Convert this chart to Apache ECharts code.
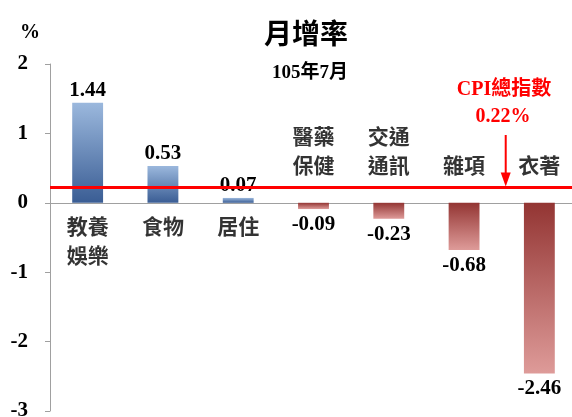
<!DOCTYPE html>
<html>
<head>
<meta charset="utf-8">
<script src="https://cdn.jsdelivr.net/npm/echarts@6/dist/echarts.min.js"></script>
<style>
  html, body { margin: 0; padding: 0; background: #fff; }
  #chart { width: 572px; height: 417px; }
</style>
</head>
<body>
<div id="chart"></div>
<script>
  // 月增率 105年7月
  const categories = ['教養\n娛樂', '食物', '居住', '醫藥\n保健', '交通\n通訊', '雜項', '衣著']
  const values = [1.44, 0.53, 0.07, -0.09, -0.23, -0.68, -2.46]
  const cpiTotal = 0.22
  const yMin = -3
  const yMax = 2

  const NUM_FONT = '"Liberation Serif", "Noto Sans CJK TC", serif'
  const CJK_FONT = '"Noto Sans CJK TC", sans-serif'

  const blueGrad = new echarts.graphic.LinearGradient(0, 0, 0, 1, [
    {offset: 0, color: '#9bb8dd'},
    {offset: 1, color: '#3a5d94'}
  ])
  const redGrad = new echarts.graphic.LinearGradient(0, 0, 0, 1, [
    {offset: 0, color: '#933533'},
    {offset: 1, color: '#de9b99'}
  ])

  let chart = echarts.init(document.getElementById('chart'))

  let option = {
    animation: false,
    backgroundColor: '#fff',
    grid: {left: 50, width: 527, top: 64, bottom: 6, outerBoundsMode: 'none', containLabel: false},
    xAxis: {
      type: 'category',
      data: categories,
      axisLine: {lineStyle: {color: '#a0a0a0', width: 1}},
      axisTick: {length: 5, lineStyle: {color: '#a0a0a0'}},
      axisLabel: {show: false}
    },
    yAxis: {
      type: 'value',
      min: yMin,
      max: yMax,
      interval: 1,
      axisLine: {show: true, lineStyle: {color: '#a0a0a0'}},
      axisTick: {show: true, length: 5, lineStyle: {color: '#a0a0a0'}},
      splitLine: {show: false},
      axisLabel: {
        margin: 22,
        color: '#000',
        fontFamily: NUM_FONT,
        fontWeight: 'bold',
        fontSize: 21
      }
    },
    series: [
      {
        type: 'bar',
        barWidth: '41%',
        data: values.map(v => ({
          value: v,
          itemStyle: {color: v >= 0 ? blueGrad : redGrad},
          label: {position: v >= 0 ? 'top' : 'bottom', distance: v >= 0 ? 2 : 5}
        })),
        label: {
          show: true,
          color: '#000',
          fontFamily: NUM_FONT,
          fontWeight: 'bold',
          fontSize: 21,
          formatter: p => p.value.toFixed(2)
        },
        markLine: {
          silent: true,
          symbol: 'none',
          label: {show: false},
          lineStyle: {color: '#ff0000', width: 3, type: 'solid'},
          data: [{yAxis: cpiTotal}]
        },
        z: 2
      },
      {
        // category names, placed on the side of the zero line away from the bar
        type: 'scatter',
        symbolSize: 0,
        silent: true,
        data: categories.map((c, i) => ({
          value: [i, 0],
          label: {
            position: values[i] >= 0 ? 'bottom' : 'top',
            distance: values[i] >= 0 ? 9 : 23
          }
        })),
        label: {
          show: true,
          color: '#000',
          fontFamily: CJK_FONT,
          fontWeight: 'bold',
          fontSize: 21,
          lineHeight: 29,
          formatter: p => categories[p.dataIndex]
        },
        z: 3
      }
    ]
  }

  chart.setOption(option)

  // annotations
  let lineY = chart.convertToPixel({yAxisIndex: 0}, cpiTotal)
  let x5 = chart.convertToPixel({xAxisIndex: 0}, 5)
  let x6 = chart.convertToPixel({xAxisIndex: 0}, 6)
  let arrowX = (x5 + x6) / 2 + 4

  chart.setOption({
    graphic: [
      {
        type: 'text',
        style: {
          text: '月增率', x: 306, y: 33, align: 'center', verticalAlign: 'middle',
          font: 'bold 28px ' + CJK_FONT, fill: '#000'
        }
      },
      {
        type: 'text',
        style: {
          text: '105年7月', x: 310, y: 73, align: 'center', verticalAlign: 'middle',
          font: 'bold 19px ' + NUM_FONT, fill: '#000'
        }
      },
      {
        type: 'text',
        style: {
          text: '%', x: 30, y: 33, align: 'center', verticalAlign: 'middle',
          font: 'bold 20px ' + NUM_FONT, fill: '#000'
        }
      },
      {
        type: 'text',
        style: {
          text: 'CPI總指數', x: 504, y: 90, align: 'center', verticalAlign: 'middle',
          font: 'bold 20px ' + NUM_FONT, fill: '#ff0000'
        }
      },
      {
        type: 'text',
        style: {
          text: cpiTotal.toFixed(2) + '%', x: 503, y: 117, align: 'center', verticalAlign: 'middle',
          font: 'bold 20px ' + NUM_FONT, fill: '#ff0000'
        }
      },
      {
        type: 'line',
        shape: {x1: arrowX, y1: 135, x2: arrowX, y2: lineY - 10},
        style: {stroke: '#ff0000', lineWidth: 2}
      },
      {
        type: 'polygon',
        shape: {points: [[arrowX - 5, lineY - 15], [arrowX + 5, lineY - 15], [arrowX, lineY - 1]]},
        style: {fill: '#ff0000'}
      }
    ]
  })
</script>
</body>
</html>
